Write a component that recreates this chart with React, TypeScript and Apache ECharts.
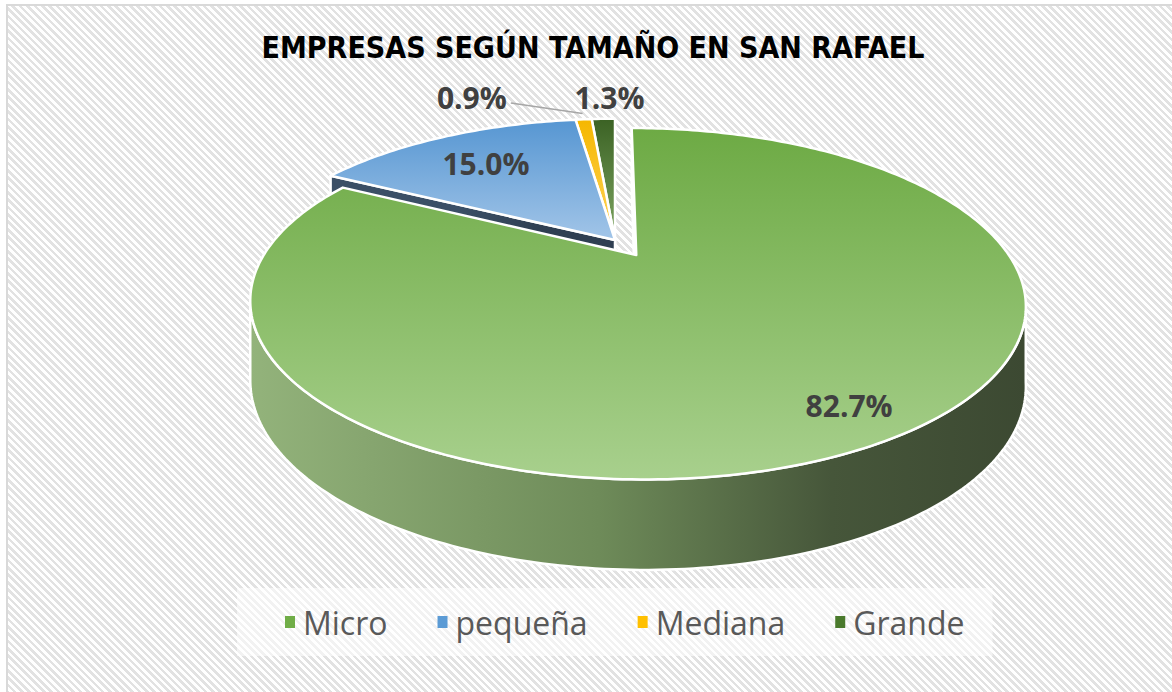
import React, { useEffect, useRef } from 'react';
import * as echarts from 'echarts';

// ---------- data ----------
const categories = ['Micro', 'pequeña', 'Mediana', 'Grande'];
const shares = [82.7, 15.0, 0.9, 1.3];
const titleText = 'EMPRESAS SEGÚN TAMAÑO EN SAN RAFAEL';

// ---------- styling / layout ----------
const legendColors = ['#70AD47', '#5B9BD5', '#FFC000', '#4A7A2C'];
const faceGrad = [
  ['#6DAA44', '#A8D08D'],
  ['#5696D2', '#A2C5E8'],
  ['#F5B700', '#FFD45A'],
  ['#3B6224', '#7EA662'],
];
const wallGrad = [
  ['#93B37B', '#6E8B59', '#46563A', '#3C4932'],
  ['#3B4F66', '#3B4F66', '#2F3F52', '#2F3F52'],
  ['#A07A00', '#A07A00', '#806100', '#806100'],
  ['#2E4A1C', '#2E4A1C', '#243B16', '#243B16'],
];
const explode = [0.111, 0, 0, 0];
const seriesZ = [5, 4, 3, 2];
const labelCfg = [
  { r: 0.86, dx: 0, dy: 0, align: 'center', leader: false },
  { r: 0.7, dx: -3, dy: 0, align: 'center', leader: false },
  { r: 1.2, dx: -72, dy: -4, align: 'right', leader: true },
  { r: 1.2, dx: 8, dy: -3, align: 'center', leader: false },
];
const PIE = { cx: 615, cy: 240, R: 363, Ry: 154, k: 0.27 };
const labelFont = '"Open Sans", "DejaVu Sans", sans-serif';
const titleFont = '"Liberation Sans Narrow", "DejaVu Sans Condensed", "Liberation Sans", sans-serif';

function proj(u: number, w: number, down = 0): number[] {
  const d = 1 + PIE.k * w;
  return [PIE.cx + (PIE.R * u) / d, PIE.cy - (PIE.Ry * w) / d + down];
}
function wallH(w: number) {
  return 74 - 15 * w;
}

function makeRenderItem(i: number) {
  return (params: any, api: any) => {
    const total = shares.reduce((a, b) => a + b, 0);
    const before = shares.slice(0, i).reduce((a, b) => a + b, 0);
    const val = api.value(0);
    const start = (before / total) * Math.PI * 2;
    const end = start + (val / total) * Math.PI * 2;
    const mid = (start + end) / 2;
    const ou = explode[i] * Math.sin(mid);
    const ow = explode[i] * Math.cos(mid);
    const pt = (r: number, t: number, down = false) => {
      const u = r * Math.sin(t) + ou;
      const w = r * Math.cos(t) + ow;
      return proj(u, w, down ? wallH(w) : 0);
    };
    const arc = (a: number, b: number, down = false) => {
      const n = Math.max(2, Math.ceil(Math.abs(b - a) / (Math.PI / 180)));
      const pts: number[][] = [];
      for (let j = 0; j <= n; j++) pts.push(pt(1, a + ((b - a) * j) / n, down));
      return pts;
    };
    const children: any[] = [];
    const wg = wallGrad[i];
    const wallFill = new echarts.graphic.LinearGradient(0, 0, 1, 0, [
      { offset: 0, color: wg[0] },
      { offset: 0.45, color: wg[1] },
      { offset: 0.75, color: wg[2] },
      { offset: 1, color: wg[3] },
    ]);
    const wallStyle = { fill: wallFill, stroke: '#ffffff', lineWidth: 2.5, lineJoin: 'round' };
    if (Math.sin(start) <= 0.001) {
      children.push({
        type: 'polygon',
        z2: 1,
        shape: { points: [pt(0, start), pt(1, start), pt(1, start, true), pt(0, start, true)] },
        style: wallStyle,
      });
    }
    if (Math.sin(end) > 0.01) {
      children.push({
        type: 'polygon',
        z2: 1,
        shape: { points: [pt(0, end), pt(1, end), pt(1, end, true), pt(0, end, true)] },
        style: wallStyle,
      });
    }
    const a0 = Math.acos(-PIE.k);
    const lo = Math.max(start, a0);
    const hi = Math.min(end, Math.PI * 2 - a0);
    if (lo < hi) {
      const top = arc(lo, hi);
      const bot = arc(hi, lo, true);
      children.push({
        type: 'polygon',
        z2: 2,
        shape: { points: top.concat(bot) },
        style: wallStyle,
      });
    }
    const fg = faceGrad[i];
    children.push({
      type: 'polygon',
      z2: 5,
      shape: { points: [pt(0, start)].concat(arc(start, end)) },
      style: {
        fill: new echarts.graphic.LinearGradient(0, 0, 0, 1, [
          { offset: 0, color: fg[0] },
          { offset: 1, color: fg[1] },
        ]),
        stroke: '#ffffff',
        lineWidth: 2.5,
        lineJoin: 'round',
      },
    });
    const lc = labelCfg[i];
    const lp = pt(lc.r, mid);
    const tx = lp[0] + lc.dx;
    const ty = lp[1] + lc.dy;
    if (lc.leader) {
      const e = pt(1.04, mid);
      children.push({
        type: 'polyline',
        z2: 8,
        shape: { points: [[tx + 4, ty + 6], [e[0], e[1] - 2]] },
        style: { stroke: '#A6A6A6', lineWidth: 1.5, fill: 'none' },
      });
    }
    children.push({
      type: 'text',
      z2: 10,
      style: {
        text: val.toFixed(1) + '%',
        x: tx,
        y: ty,
        align: lc.align,
        verticalAlign: 'middle',
        fill: '#404040',
        fontSize: 30,
        fontWeight: 'bold',
        fontFamily: labelFont,
      },
    });
    return { type: 'group', children };
  };
}

export default function App() {
  const ref = useRef<HTMLDivElement>(null);
  useEffect(() => {
    if (!ref.current) return;
    const chart = echarts.init(ref.current, undefined, { renderer: 'svg' });
    const series = categories.map((name, i) => ({
      type: 'custom',
      name,
      coordinateSystem: 'none',
      silent: true,
      z: seriesZ[i],
      itemStyle: { color: legendColors[i] },
      data: [shares[i]],
      renderItem: makeRenderItem(i),
    }));
    chart.setOption({
      animation: false,
      graphic: [
        {
          type: 'rect',
          silent: true,
          z: 0,
          shape: { x: 7, y: 5, width: 1200, height: 720 },
          style: { fill: 'none', stroke: '#D9D9D9', lineWidth: 2 },
        },
        {
          type: 'text',
          silent: true,
          z: 10,
          style: {
            text: titleText,
            x: 593,
            y: 47,
            align: 'center',
            verticalAlign: 'middle',
            fill: '#000000',
            fontSize: 30,
            fontWeight: 'bold',
            fontFamily: titleFont,
          },
        },
      ],
      legend: {
        data: categories,
        left: 237,
        top: 588,
        orient: 'horizontal',
        padding: [18, 28, 18, 48],
        itemGap: 50,
        itemWidth: 10,
        itemHeight: 12,
        icon: 'rect',
        selectedMode: false,
        backgroundColor: 'rgba(255,255,255,0.55)',
        textStyle: { fontSize: 32, color: '#595959', fontFamily: '"Open Sans", sans-serif', padding: [0, 0, 0, 3] },
      },
      series,
    });
    return () => chart.dispose();
  }, []);
  return (
    <div style={{ position: 'fixed', left: 0, top: 0, width: 1172, height: 692, background: '#ffffff', overflow: 'hidden' }}>
      <div
        style={{
          position: 'absolute',
          left: 7,
          top: 5,
          width: 1172,
          height: 692,
          background:
            'repeating-linear-gradient(45deg, #ffffff 0px, #ffffff 2.6px, #e2e2e2 2.6px, #e2e2e2 5.2px)',
        }}
      />
      <div ref={ref} style={{ position: 'absolute', left: 0, top: 0, width: 1172, height: 692 }} />
    </div>
  );
}
